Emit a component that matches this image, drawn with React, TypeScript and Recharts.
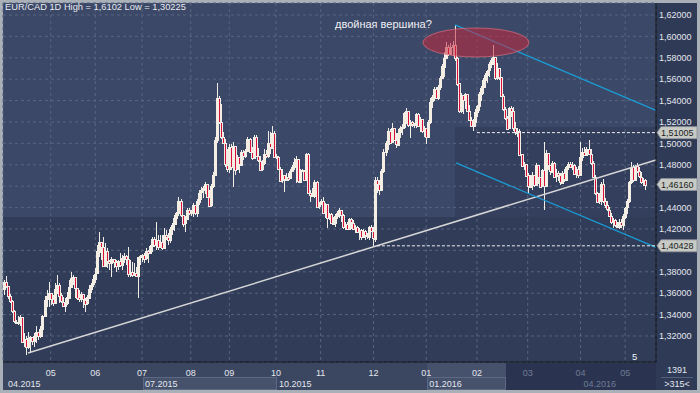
import React from 'react';
import {
  ComposedChart,
  Bar,
  XAxis,
  YAxis,
  CartesianGrid,
  ReferenceLine,
  ReferenceDot
} from 'recharts';

// EUR/CAD daily candles, Apr 2015 - May 2016 (open = previous close)
const firstOpen = 1.363;

const closes = [
  1.37, 1.3665, 1.357, 1.3525, 1.343, 1.3335, 1.333, 1.3322, 1.3375, 1.314,
  1.3172, 1.3095, 1.318, 1.319, 1.315, 1.32, 1.324, 1.3205, 1.327, 1.339,
  1.354, 1.357, 1.36, 1.3545, 1.351, 1.364, 1.368, 1.358, 1.352, 1.348,
  1.35, 1.356, 1.366, 1.374, 1.375, 1.365, 1.356, 1.354, 1.359, 1.354,
  1.35, 1.356, 1.364, 1.368, 1.373, 1.378, 1.399, 1.408, 1.403, 1.385,
  1.399, 1.39, 1.388, 1.392, 1.389, 1.385, 1.39, 1.386, 1.393, 1.395,
  1.392, 1.378, 1.38, 1.377, 1.379, 1.376, 1.394, 1.395, 1.396, 1.392,
  1.399, 1.397, 1.404, 1.411, 1.405, 1.41, 1.403, 1.408, 1.402, 1.414,
  1.4125, 1.41, 1.42, 1.424, 1.43, 1.435, 1.446, 1.433, 1.425, 1.43,
  1.438, 1.435, 1.436, 1.442, 1.4345, 1.446, 1.454, 1.456, 1.458, 1.462,
  1.45, 1.442, 1.46, 1.47, 1.503, 1.542, 1.52, 1.506, 1.5, 1.48,
  1.476, 1.497, 1.478, 1.498, 1.476, 1.487, 1.48, 1.492, 1.488, 1.493,
  1.504, 1.492, 1.486, 1.506, 1.488, 1.484, 1.476, 1.482, 1.49, 1.488,
  1.5, 1.496, 1.51, 1.488, 1.487, 1.476, 1.465, 1.47, 1.466, 1.469,
  1.467, 1.474, 1.478, 1.483, 1.485, 1.464, 1.475, 1.474, 1.466, 1.49,
  1.454, 1.452, 1.451, 1.464, 1.441, 1.443, 1.446, 1.435, 1.443, 1.43,
  1.434, 1.426, 1.4255, 1.432, 1.435, 1.438, 1.433, 1.422, 1.425, 1.42,
  1.429, 1.426, 1.42, 1.422, 1.417, 1.419, 1.412, 1.418, 1.414, 1.413,
  1.422, 1.418, 1.411, 1.466, 1.462, 1.456, 1.474, 1.492, 1.5, 1.512,
  1.501, 1.514, 1.503, 1.499, 1.51, 1.514, 1.515, 1.528, 1.53, 1.517,
  1.52, 1.518, 1.517, 1.527, 1.516, 1.523, 1.512, 1.514, 1.506, 1.52,
  1.539, 1.543, 1.551, 1.543, 1.553, 1.561, 1.572, 1.58, 1.59, 1.583,
  1.59, 1.592, 1.58, 1.556, 1.53, 1.545, 1.54, 1.546, 1.53, 1.522,
  1.516, 1.52, 1.529, 1.535, 1.546, 1.552, 1.559, 1.564, 1.568, 1.574,
  1.578, 1.581, 1.561, 1.57, 1.562, 1.544, 1.532, 1.524, 1.514, 1.533,
  1.53, 1.514, 1.51, 1.512, 1.49, 1.479, 1.481, 1.47, 1.46, 1.468,
  1.47, 1.461, 1.48, 1.469, 1.46, 1.475, 1.46, 1.491, 1.48, 1.474,
  1.482, 1.469, 1.472, 1.47, 1.463, 1.472, 1.466, 1.478, 1.481, 1.478,
  1.48, 1.472, 1.476, 1.47, 1.487, 1.492, 1.489, 1.495, 1.49, 1.482,
  1.469, 1.454, 1.446, 1.45, 1.462, 1.446, 1.442, 1.438, 1.432, 1.426,
  1.428, 1.423, 1.422, 1.427, 1.424, 1.432, 1.44, 1.446, 1.464, 1.478,
  1.466, 1.479, 1.474, 1.469, 1.464, 1.466, 1.4616
];

const highs = [
  1.3723, 1.3761, 1.367, 1.359, 1.3537, 1.344, 1.335, 1.3384, 1.3395, 1.338,
  1.323, 1.32, 1.324, 1.32, 1.319, 1.3225, 1.329, 1.324, 1.329, 1.34,
  1.357, 1.363, 1.3708, 1.36, 1.358, 1.3692, 1.377, 1.3692, 1.3599, 1.3568,
  1.3552, 1.361, 1.3723, 1.3801, 1.377, 1.3755, 1.3646, 1.363, 1.3615, 1.3568,
  1.3552, 1.3583, 1.3677, 1.3692, 1.377, 1.3832, 1.405, 1.4175, 1.4066, 1.4128,
  1.4066, 1.4019, 1.391, 1.3942, 1.391, 1.391, 1.391, 1.3973, 1.3957, 1.3973,
  1.3957, 1.4035, 1.391, 1.3895, 1.3879, 1.3848, 1.3942, 1.3957, 1.397, 1.3973,
  1.4019, 1.4004, 1.405, 1.4128, 1.4128, 1.4268, 1.414, 1.414, 1.414, 1.4206,
  1.419, 1.416, 1.4222, 1.4253, 1.433, 1.4362, 1.4502, 1.448, 1.433, 1.432,
  1.4395, 1.4395, 1.438, 1.444, 1.442, 1.448, 1.456, 1.4596, 1.46, 1.464,
  1.458, 1.456, 1.462, 1.473, 1.5063, 1.5561, 1.544, 1.537, 1.511, 1.504,
  1.495, 1.499, 1.499, 1.501, 1.497, 1.489, 1.487, 1.494, 1.4938, 1.495,
  1.5063, 1.505, 1.497, 1.508, 1.508, 1.496, 1.488, 1.4845, 1.495, 1.494,
  1.512, 1.511, 1.5162, 1.512, 1.49, 1.488, 1.478, 1.476, 1.47, 1.472,
  1.472, 1.476, 1.48, 1.486, 1.488, 1.4845, 1.476, 1.476, 1.4752, 1.4907,
  1.491, 1.456, 1.458, 1.466, 1.465, 1.445, 1.448, 1.45, 1.444, 1.435,
  1.435, 1.435, 1.4316, 1.434, 1.437, 1.4394, 1.4378, 1.434, 1.427, 1.427,
  1.43, 1.43, 1.428, 1.424, 1.423, 1.421, 1.42, 1.42, 1.419, 1.416,
  1.423, 1.424, 1.422, 1.469, 1.469, 1.466, 1.476, 1.495, 1.502, 1.514,
  1.513, 1.519, 1.512, 1.51, 1.513, 1.516, 1.518, 1.529, 1.533, 1.53,
  1.522, 1.521, 1.519, 1.528, 1.528, 1.525, 1.522, 1.516, 1.514, 1.522,
  1.542, 1.545, 1.553, 1.553, 1.555, 1.563, 1.574, 1.585, 1.595, 1.592,
  1.5935, 1.596, 1.6102, 1.581, 1.556, 1.547, 1.544, 1.547, 1.543, 1.536,
  1.525, 1.523, 1.532, 1.536, 1.548, 1.554, 1.561, 1.566, 1.569, 1.576,
  1.58, 1.592, 1.58, 1.575, 1.565, 1.56, 1.546, 1.534, 1.526, 1.534,
  1.535, 1.534, 1.52, 1.514, 1.513, 1.49, 1.483, 1.48, 1.472, 1.47,
  1.473, 1.47, 1.482, 1.472, 1.469, 1.476, 1.501, 1.494, 1.49, 1.477,
  1.484, 1.483, 1.476, 1.474, 1.472, 1.474, 1.476, 1.479, 1.483, 1.483,
  1.483, 1.481, 1.478, 1.479, 1.501, 1.496, 1.497, 1.497, 1.503, 1.495,
  1.484, 1.47, 1.455, 1.454, 1.464, 1.467, 1.449, 1.446, 1.441, 1.435,
  1.43, 1.429, 1.427, 1.429, 1.429, 1.434, 1.441, 1.448, 1.465, 1.483,
  1.48, 1.48, 1.482, 1.478, 1.473, 1.468, 1.467
];

const lows = [
  1.3583, 1.365, 1.355, 1.3505, 1.3415, 1.332, 1.3315, 1.3305, 1.329, 1.313,
  1.31, 1.3023, 1.308, 1.304, 1.312, 1.31, 1.313, 1.3163, 1.318, 1.3195,
  1.338, 1.3474, 1.347, 1.349, 1.348, 1.3505, 1.359, 1.3505, 1.3505, 1.3474,
  1.3427, 1.349, 1.36, 1.365, 1.368, 1.3552, 1.3537, 1.3521, 1.3521, 1.3458,
  1.3427, 1.349, 1.3568, 1.3599, 1.3661, 1.3692, 1.38, 1.3942, 1.391, 1.3848,
  1.3926, 1.3832, 1.3817, 1.3755, 1.3832, 1.3801, 1.3817, 1.3848, 1.3817, 1.3879,
  1.3863, 1.3755, 1.3755, 1.3755, 1.377, 1.3755, 1.3552, 1.3863, 1.3895, 1.3879,
  1.391, 1.3879, 1.3973, 1.3988, 1.4035, 1.4004, 1.4004, 1.4019, 1.4004, 1.4019,
  1.41, 1.405, 1.4066, 1.414, 1.418, 1.424, 1.432, 1.431, 1.4222, 1.4176,
  1.43, 1.433, 1.432, 1.4315, 1.433, 1.4315, 1.442, 1.447, 1.449, 1.453,
  1.449, 1.441, 1.441, 1.458, 1.47, 1.5, 1.518, 1.504, 1.499, 1.478,
  1.473, 1.472, 1.4752, 1.4596, 1.47, 1.475, 1.472, 1.48, 1.4845, 1.486,
  1.493, 1.491, 1.4845, 1.486, 1.487, 1.483, 1.475, 1.474, 1.48, 1.486,
  1.486, 1.49, 1.497, 1.487, 1.485, 1.475, 1.464, 1.4627, 1.455, 1.465,
  1.465, 1.468, 1.474, 1.475, 1.4627, 1.4627, 1.4627, 1.473, 1.465, 1.466,
  1.453, 1.4455, 1.45, 1.449, 1.44, 1.439, 1.442, 1.434, 1.43, 1.421,
  1.428, 1.425, 1.424, 1.422, 1.429, 1.43, 1.427, 1.42, 1.419, 1.419,
  1.419, 1.42, 1.419, 1.416, 1.416, 1.41, 1.41, 1.412, 1.41, 1.411,
  1.41, 1.417, 1.4043, 1.408, 1.454, 1.452, 1.456, 1.472, 1.488, 1.494,
  1.5, 1.5, 1.502, 1.496, 1.499, 1.505, 1.508, 1.513, 1.518, 1.515,
  1.505, 1.515, 1.514, 1.514, 1.515, 1.511, 1.51, 1.506, 1.499, 1.505,
  1.518, 1.533, 1.54, 1.542, 1.541, 1.55, 1.56, 1.562, 1.58, 1.582,
  1.584, 1.582, 1.577, 1.554, 1.528, 1.528, 1.527, 1.532, 1.529, 1.521,
  1.515, 1.512, 1.515, 1.525, 1.53, 1.54, 1.546, 1.552, 1.556, 1.562,
  1.57, 1.573, 1.559, 1.559, 1.559, 1.543, 1.53, 1.522, 1.514, 1.513,
  1.525, 1.512, 1.508, 1.506, 1.489, 1.478, 1.475, 1.469, 1.4534, 1.459,
  1.456, 1.459, 1.46, 1.462, 1.458, 1.459, 1.438, 1.46, 1.475, 1.47,
  1.473, 1.468, 1.464, 1.465, 1.461, 1.462, 1.464, 1.466, 1.475, 1.477,
  1.475, 1.47, 1.468, 1.468, 1.478, 1.484, 1.488, 1.49, 1.489, 1.48,
  1.468, 1.452, 1.444, 1.443, 1.442, 1.444, 1.44, 1.437, 1.431, 1.425,
  1.421, 1.422, 1.421, 1.42, 1.421, 1.419, 1.429, 1.434, 1.444, 1.462,
  1.464, 1.467, 1.472, 1.468, 1.462, 1.46, 1.456
];

const monthTicks = [23, 45, 68, 92, 111, 134, 156, 182, 208, 233, 258, 284, 306];
const monthLabels = ['05', '06', '07', '08', '09', '10', '11', '12', '01', '02', '03', '04', '05'];
const periodTicks = [-0.5, 68, 134, 208, 284];
const periodLabels = ['04.2015', '07.2015', '10.2015', '01.2016', '04.2016'];
const priceTicks = [1.32, 1.34, 1.36, 1.38, 1.4, 1.42, 1.44, 1.46, 1.48, 1.5, 1.52, 1.54, 1.56, 1.58, 1.6, 1.62];

const resistance = 1.51005;
const support = 1.40428;
const lastPrice = 1.4616;
const trendLine = [{ x: 11.8, y: 1.3041 }, { x: 321.2, y: 1.4845 }];
const channelUpper = [{ x: 222.2, y: 1.6107 }, { x: 321.2, y: 1.5308 }];
const channelLower = [{ x: 222.7, y: 1.4817 }, { x: 321.2, y: 1.4028 }];
const doubleTop = { x: 232.5, y: 1.5943 };

const FONT = "'Liberation Sans', Arial, sans-serif";
const LABEL = '#e3e7ee';
const FADED = '#6f7b94';
const X_MAX = 321.2;
const tagValues = [resistance, lastPrice, support];

const candles = closes.map((c, i) => {
  const o = i === 0 ? firstOpen : closes[i - 1];
  return {
    i,
    open: o,
    close: c,
    high: Math.max(highs[i], o, c),
    low: Math.min(lows[i], o, c)
  };
});

const axisTicks = [-0.5, ...monthTicks];

const Candle = (props: any) => {
  const { x, y, width, height, payload } = props;
  const { open, close, high, low } = payload;
  const top = Math.min(y, y + height);
  const h = Math.abs(height);
  const pix = (v: number) => top + ((high - v) / (high - low || 1)) * h;
  const left = Math.round(x + width / 2) - 1;
  const yo = pix(open);
  const yc = pix(close);
  const bodyTop = Math.round(Math.min(yo, yc));
  const bodyH = Math.max(1, Math.round(Math.abs(yo - yc)));
  const up = close >= open;
  return (
    <g shapeRendering="crispEdges">
      <line x1={left + 1.5} x2={left + 1.5} y1={Math.round(top)} y2={Math.round(top + h)} stroke="#f2eee6" strokeWidth={1} />
      <rect
        x={left + 0.5}
        y={bodyTop + 0.5}
        width={2}
        height={bodyH}
        fill={up ? '#f7efe2' : '#d9103c'}
        stroke="#f2eee6"
        strokeWidth={1}
      />
    </g>
  );
};

const AxisTick = (props: any) => {
  const { x, payload } = props;
  const m = monthTicks.indexOf(payload.value);
  const p = periodTicks.indexOf(payload.value);
  return (
    <g fontFamily={FONT} fontSize={9}>
      {m >= 0 && (
        <text x={x} y={375.5} textAnchor="middle" fill={m >= 10 ? FADED : LABEL}>
          {monthLabels[m]}
        </text>
      )}
      {p >= 0 && (
        <text x={x + (p === 0 ? 5 : 3)} y={386.5} fill={p === 4 ? FADED : LABEL}>
          {periodLabels[p]}
        </text>
      )}
    </g>
  );
};

// tick labels hidden behind a price tag are not drawn
const PriceTick = (props: any) => {
  const { y, payload } = props;
  const covered = tagValues.some((t) => Math.abs(t - payload.value) < 0.007);
  if (covered) return <g />;
  return (
    <text x={659} y={y + 3.2} fill={LABEL} fontSize={9} fontFamily={FONT}>
      {payload.value.toFixed(5).replace('.', ',')}
    </text>
  );
};

const priceTag = (value: number) => (props: any) => {
  const { cx, cy } = props;
  const l = cx + 1;
  return (
    <g>
      <polygon
        points={`${l},${cy} ${l + 4},${cy - 6} ${l + 40},${cy - 6} ${l + 40},${cy + 6} ${l + 4},${cy + 6}`}
        fill="#c8cbc5"
        stroke="#8d929b"
        strokeWidth={0.8}
      />
      <text x={l + 4} y={cy + 3.3} fontSize={9} fontFamily={FONT} fill="#1b1d22">
        {value.toFixed(5).replace('.', ',')}
      </text>
    </g>
  );
};

const Ellipse = (props: any) => (
  <ellipse
    cx={props.cx}
    cy={props.cy}
    rx={53}
    ry={14.5}
    fill="rgba(196, 40, 62, 0.55)"
    stroke="rgba(235, 120, 130, 0.6)"
    strokeWidth={1}
  />
);

const box = (left: number, top: number, width: number, height: number, background: string, extra: any = {}) => (
  <div style={{ position: 'absolute', left, top, width, height, background, boxSizing: 'border-box', ...extra }} />
);

export default function App() {
  return (
    <div style={{ position: 'absolute', left: 0, top: 0, width: 700, height: 393, background: '#aab0b8', overflow: 'hidden' }}>
      {/* plot background */}
      {box(3, 3, 653, 359, '#303c58')}
      {box(3, 3, 452, 214, '#3c4867')}
      {box(455, 3, 201, 124, '#3c4867')}
      {box(455, 127, 201, 90, '#333f5c')}
      {/* axis panels */}
      {box(656, 3, 41, 387, '#2f3a56')}
      {box(3, 362, 653, 28, '#3b4661')}
      {box(143, 377, 134, 13, '#46516c', { border: '1px solid #5d6883' })}
      {box(427, 363, 79, 27, '#46516c')}
      {box(427, 377, 79, 13, '#46516c', { border: '1px solid #5d6883' })}
      {box(506, 363, 150, 27, '#2a3450')}

      <div style={{ position: 'absolute', left: 0, top: 0 }}>
        <ComposedChart width={700} height={390} data={candles} margin={{ top: 3, right: 3, bottom: 0, left: 3 }}>
          <CartesianGrid stroke="#58647f" strokeDasharray="3 3" />
          <XAxis
            type="number"
            dataKey="i"
            domain={[-0.5, X_MAX]}
            ticks={axisTicks}
            interval={0}
            tick={<AxisTick />}
            tickLine={false}
            axisLine={{ stroke: '#0c0e13' }}
            height={28}
            allowDataOverflow
          />
          <YAxis
            orientation="right"
            domain={[1.2957, 1.6312]}
            ticks={priceTicks}
            interval={0}
            tick={<PriceTick />}
            tickLine={false}
            axisLine={{ stroke: '#0c0e13' }}
            width={41}
            allowDataOverflow
          />
          <Bar dataKey={(d: any) => [d.low, d.high]} barSize={3} shape={Candle} isAnimationActive={false} />
          <ReferenceLine segment={trendLine} stroke="#d6d6d6" strokeWidth={1.5} ifOverflow="visible" />
          <ReferenceLine segment={channelUpper} stroke="#1a9bd4" strokeWidth={1.3} ifOverflow="visible" />
          <ReferenceLine segment={channelLower} stroke="#1a9bd4" strokeWidth={1.3} ifOverflow="visible" />
          <ReferenceLine
            segment={[{ x: 233, y: resistance }, { x: X_MAX, y: resistance }]}
            stroke="#f0f0f0"
            strokeDasharray="3 2"
            ifOverflow="visible"
          />
          <ReferenceLine
            segment={[{ x: 183.7, y: support }, { x: X_MAX, y: support }]}
            stroke="#f0f0f0"
            strokeDasharray="3 2"
            ifOverflow="visible"
          />
          <ReferenceDot x={doubleTop.x} y={doubleTop.y} shape={Ellipse} ifOverflow="visible" />
          <ReferenceDot x={X_MAX} y={resistance} shape={priceTag(resistance)} ifOverflow="visible" />
          <ReferenceDot x={X_MAX} y={lastPrice} shape={priceTag(lastPrice)} ifOverflow="visible" />
          <ReferenceDot x={X_MAX} y={support} shape={priceTag(support)} ifOverflow="visible" />
        </ComposedChart>
      </div>

      <div style={{ position: 'absolute', left: 5, top: 2, fontFamily: FONT, fontSize: 9.3, color: '#e8ebf0', whiteSpace: 'nowrap' }}>
        EUR/CAD 1D High = 1,6102 Low = 1,30225
      </div>
      <div style={{ position: 'absolute', left: 335, top: 18, fontFamily: FONT, fontSize: 11, color: '#eef0f4', whiteSpace: 'nowrap' }}>
        двойная вершина?
      </div>
      <div style={{ position: 'absolute', left: 632, top: 351, fontFamily: FONT, fontSize: 9.5, color: '#eef0f4' }}>5</div>
      <div style={{ position: 'absolute', left: 657, top: 364, width: 40, textAlign: 'center', fontFamily: FONT, fontSize: 9, color: LABEL, lineHeight: '12px' }}>
        1391
        <div style={{ borderTop: '1px solid #56617b', margin: '1px 4px 0' }} />
        &gt;315&lt;
      </div>
    </div>
  );
}
